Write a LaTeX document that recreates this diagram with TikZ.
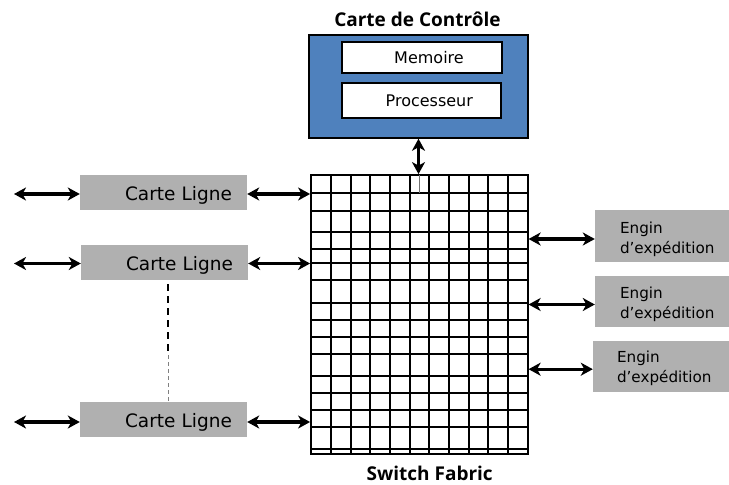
\documentclass[tikz,border=0pt]{standalone}
\usepackage{fontspec}
\setmainfont{DejaVu Sans}
\newfontfamily\headfont{Open Sans}
\usetikzlibrary{arrows.meta}

\definecolor{ctrlblue}{HTML}{4F81BD}
\definecolor{cardgray}{HTML}{B0B0B0}

\begin{document}
\begin{tikzpicture}[x=1bp, y=-1bp,
  tip/.tip={Stealth[length=12bp, width=13bp, inset=3.5bp]},
  dbl/.style={{tip}-{tip}, line width=3.2bp},
  card/.style={fill=cardgray, draw=none, minimum height=35bp, inner ysep=0bp,
    inner xsep=15bp, text width=137bp, text height=16.4bp, text depth=0bp, align=right,
    font=\fontsize{18.5bp}{22bp}\selectfont},
  engine/.style={fill=cardgray, draw=none, minimum width=136bp, minimum height=51bp, inner sep=0bp},
  enginetext/.style={anchor=west, align=left, inner sep=0bp, font=\fontsize{15.2bp}{20bp}\selectfont},
  unit/.style={fill=white, draw=black, line width=1.8bp, inner sep=0bp, font=\fontsize{16bp}{19bp}\selectfont},
  heading/.style={anchor=base, inner sep=0bp, font=\headfont\bfseries\fontsize{19bp}{22bp}\selectfont},
  gridline/.style={line width=1.8bp}
]
\useasboundingbox (0,0) rectangle (729,485);

% control card with its two units
\node[heading] (ctrltitle) at (417.5,26.7) {Carte de Contrôle};
\node[fill=ctrlblue, draw=black, line width=2bp, minimum width=219bp, minimum height=102.7bp, inner sep=0bp]
  (ctrl) at (418.8,86.4) {};
\node[unit, minimum width=160.6bp, minimum height=31.6bp] (mem) at (422,57.5) {\hspace*{14bp}Memoire};
\node[unit, minimum width=159.3bp, minimum height=35.6bp] (cpu) at (421.3,100.5) {\hspace*{16bp}Processeur};

% switch fabric: outer frame and irregular crossbar grid
\node[draw=black, line width=1.8bp, minimum width=216.7bp, minimum height=279.3bp, inner sep=0bp]
  (fabric) at (419.35,314.65) {};
\foreach \x in {331,350.7,370.3,390,410,429.3,449,468.7,488.3,508}
  \draw[gridline] (\x,175) -- (\x,454.3);
\foreach \y in {192.7,210.7,232,249.3,263.3,280,302.7,320,337.3,354.3,376,393.3,410,426.7,448.7}
  \draw[gridline] (311,\y) -- (527.7,\y);
\node[heading] (fabtitle) at (429.7,480) {Switch Fabric};

% control card <-> fabric
\coordinate (vx) at (418.5,0);
\draw[dbl] (vx |- ctrl.south) -- (vx |- fabric.north);
\draw[line width=0.9bp, black!55] (419.6,175) -- (419.6,192.7);

% line cards
\node[card] (l1) at (163.5,192.5) {Carte Ligne};
\node[card] (l2) at (164.5,262.5) {Carte Ligne};
\node[card] (l3) at (163.5,419.5) {Carte Ligne};

\coordinate (lx) at (14,0);
\foreach \c/\s in {l1/-1.5bp, l2/-1bp, l3/-2.5bp} {
  \draw[dbl] ([yshift=\s]lx |- \c.west) -- ([yshift=\s]\c.west);
  \draw[dbl] ([yshift=\s]\c.east) -- ([yshift=\s]\c.east -| fabric.west);
}

% elided line cards
\coordinate (dmid) at (168,355);
\draw[line width=2.6bp, dash pattern=on 7bp off 5bp] (dmid |- l2.south) ++(0,4) -- (dmid);
\draw[line width=1bp, black!50, dash pattern=on 4bp off 3bp] (dmid) -- (dmid |- l3.north);

% forwarding engines
\node[engine] (e1) at (663,236) {};
\node[engine] (e2) at (663,301.5) {};
\node[engine] (e3) at (661,366.2) {};
\node[enginetext] (t1) at ([xshift=25bp, yshift=-3bp]e1.west) {Engin\\d’expédition};
\node[enginetext] (t2) at ([xshift=25bp, yshift=-3bp]e2.west) {Engin\\d’expédition};
\node[enginetext] (t3) at ([xshift=24bp, yshift=-2bp]e3.west) {Engin\\d’expédition};

\foreach \e in {e1,e2,e3}
  \draw[dbl] ([yshift=-3bp]\e.west -| fabric.east) -- ([yshift=-3bp]\e.west);
\end{tikzpicture}
\end{document}
